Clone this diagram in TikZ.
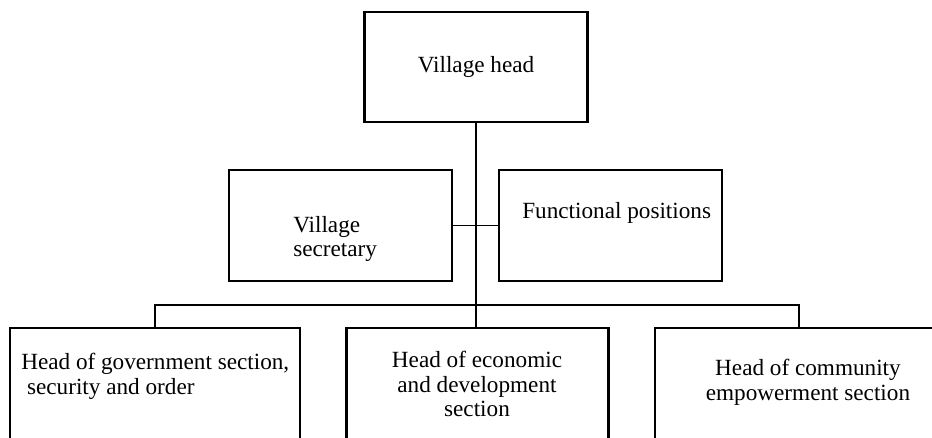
\documentclass[tikz,border=0pt]{standalone}
\usepackage{fontspec}
\setmainfont{Liberation Serif}
\begin{document}
\begin{tikzpicture}[x=0.75pt,y=-0.75pt,
  box/.style={draw,line width=1.6pt,rectangle,inner sep=0pt},
  conn/.style={draw,line width=0.9pt},
  lbl/.style={inner sep=0pt,font=\fontsize{17.4}{18.6}\selectfont}]
\useasboundingbox (0,0) rectangle (932,437);
\clip (0,0) rectangle (932,437);
% boxes
\node[box,minimum width=167.25pt,minimum height=82.5pt] (vh) at (476,67) {};
\node[box,minimum width=167.25pt,minimum height=83.25pt] (sec) at (340.5,225.5) {};
\node[box,minimum width=167.25pt,minimum height=83.25pt] (fun) at (610.5,225.5) {};
\node[box,minimum width=217.5pt,minimum height=106.5pt] (b1) at (155,399) {};
\node[box,minimum width=196.5pt,minimum height=106.5pt] (b2) at (477.5,399) {};
\node[box,minimum width=216pt,minimum height=106.5pt] (b3) at (799,399) {};
% labels
\node[lbl] (tvh) at (476,67) {Village head};
\node[lbl,anchor=west,align=left] (tsec) at (293,239) {Village\\secretary};
\node[lbl,anchor=west] (tfun) at (522,213) {Functional positions};
\node[lbl,anchor=west,align=left] (t1) at (21,376) {Head of government section,\\\hspace{0.25em}security and order};
\node[lbl,align=center] (t2) at (477,384) {Head of economic\\and development\\section};
\node[lbl,align=center] (t3) at (808,382) {Head of community\\empowerment section};
% connectors
\coordinate (bus) at (476,305);
\draw[conn] (vh.south) -- (bus) -- (bus |- b2.north);
\draw[conn] (sec.east) -- (fun.west);
\draw[conn] (b1.north) |- (bus) -| (b3.north);
\end{tikzpicture}
\end{document}
